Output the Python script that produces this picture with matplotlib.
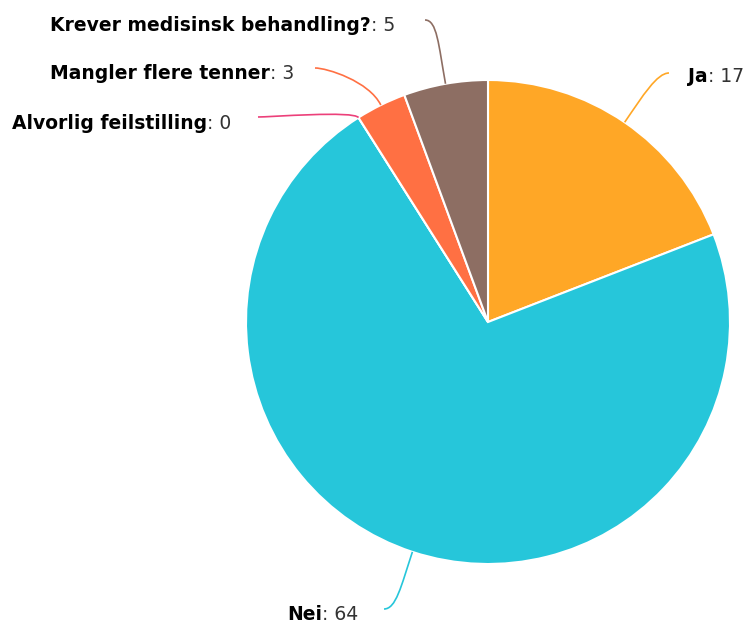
import matplotlib
matplotlib.use("Agg")
import matplotlib.pyplot as plt
import numpy as np
from matplotlib.path import Path
from matplotlib.patches import PathPatch

labels = ["Ja", "Nei", "Alvorlig feilstilling", "Mangler flere tenner", "Krever medisinsk behandling?"]
values = [17, 64, 0, 3, 5]
colors = ["#FFA726", "#26C6DA", "#EC407A", "#FF7043", "#8D6E63"]

W, H = 749, 626
CX, CY, R = 488, H - 322, 242
FS = 13.5

# text left x, text baseline y, connector end x, end y  (pixels, top-left origin)
label_pos = [
    (688, 82, 669, 73),
    (287, 620, 384, 609),
    (12, 129, 258, 117),
    (50, 79, 315, 68),
    (50, 31, 425, 20),
]

fig = plt.figure(figsize=(W / 100, H / 100), dpi=100)
ax = fig.add_axes([0, 0, 1, 1])

ax.pie(values, colors=colors, startangle=90, counterclock=False, center=(CX, CY), radius=R,
       wedgeprops=dict(edgecolor="white", linewidth=1.5))
ax.set_xlim(0, W)
ax.set_ylim(0, H)
ax.set_aspect("auto")
ax.axis("off")

total = sum(values)
start = 0.0
fig.canvas.draw()
for name, v, c, lp in zip(labels, values, colors, label_pos):
    sweep = 360.0 * v / total
    mid = np.radians(start + sweep / 2)
    start += sweep
    ox, oy = np.sin(mid), np.cos(mid)
    px, py = CX + R * ox, CY + R * oy
    tx, ty, ex, ey = lp
    ey = H - ey
    # connector leaves the slice outward, then bends toward the label
    k = 0.5 * abs(ey - py) + 8
    d = 12 if px > ex else -12
    verts = [(px, py), (px + ox * k, py + oy * k), (ex + d, ey), (ex, ey)]
    path = Path(verts, [Path.MOVETO, Path.CURVE4, Path.CURVE4, Path.CURVE4])
    ax.add_patch(PathPatch(path, fill=False, edgecolor=c, linewidth=1.2))

    t = ax.text(tx, H - ty, name, ha="left", va="baseline", fontsize=FS,
                fontweight="bold", color="#000000")
    bb = t.get_window_extent(renderer=fig.canvas.get_renderer())
    ax.text(bb.x1, H - ty, f": {v}", ha="left", va="baseline", fontsize=FS, color="#333333")

fig.savefig("out.png", dpi=100)
